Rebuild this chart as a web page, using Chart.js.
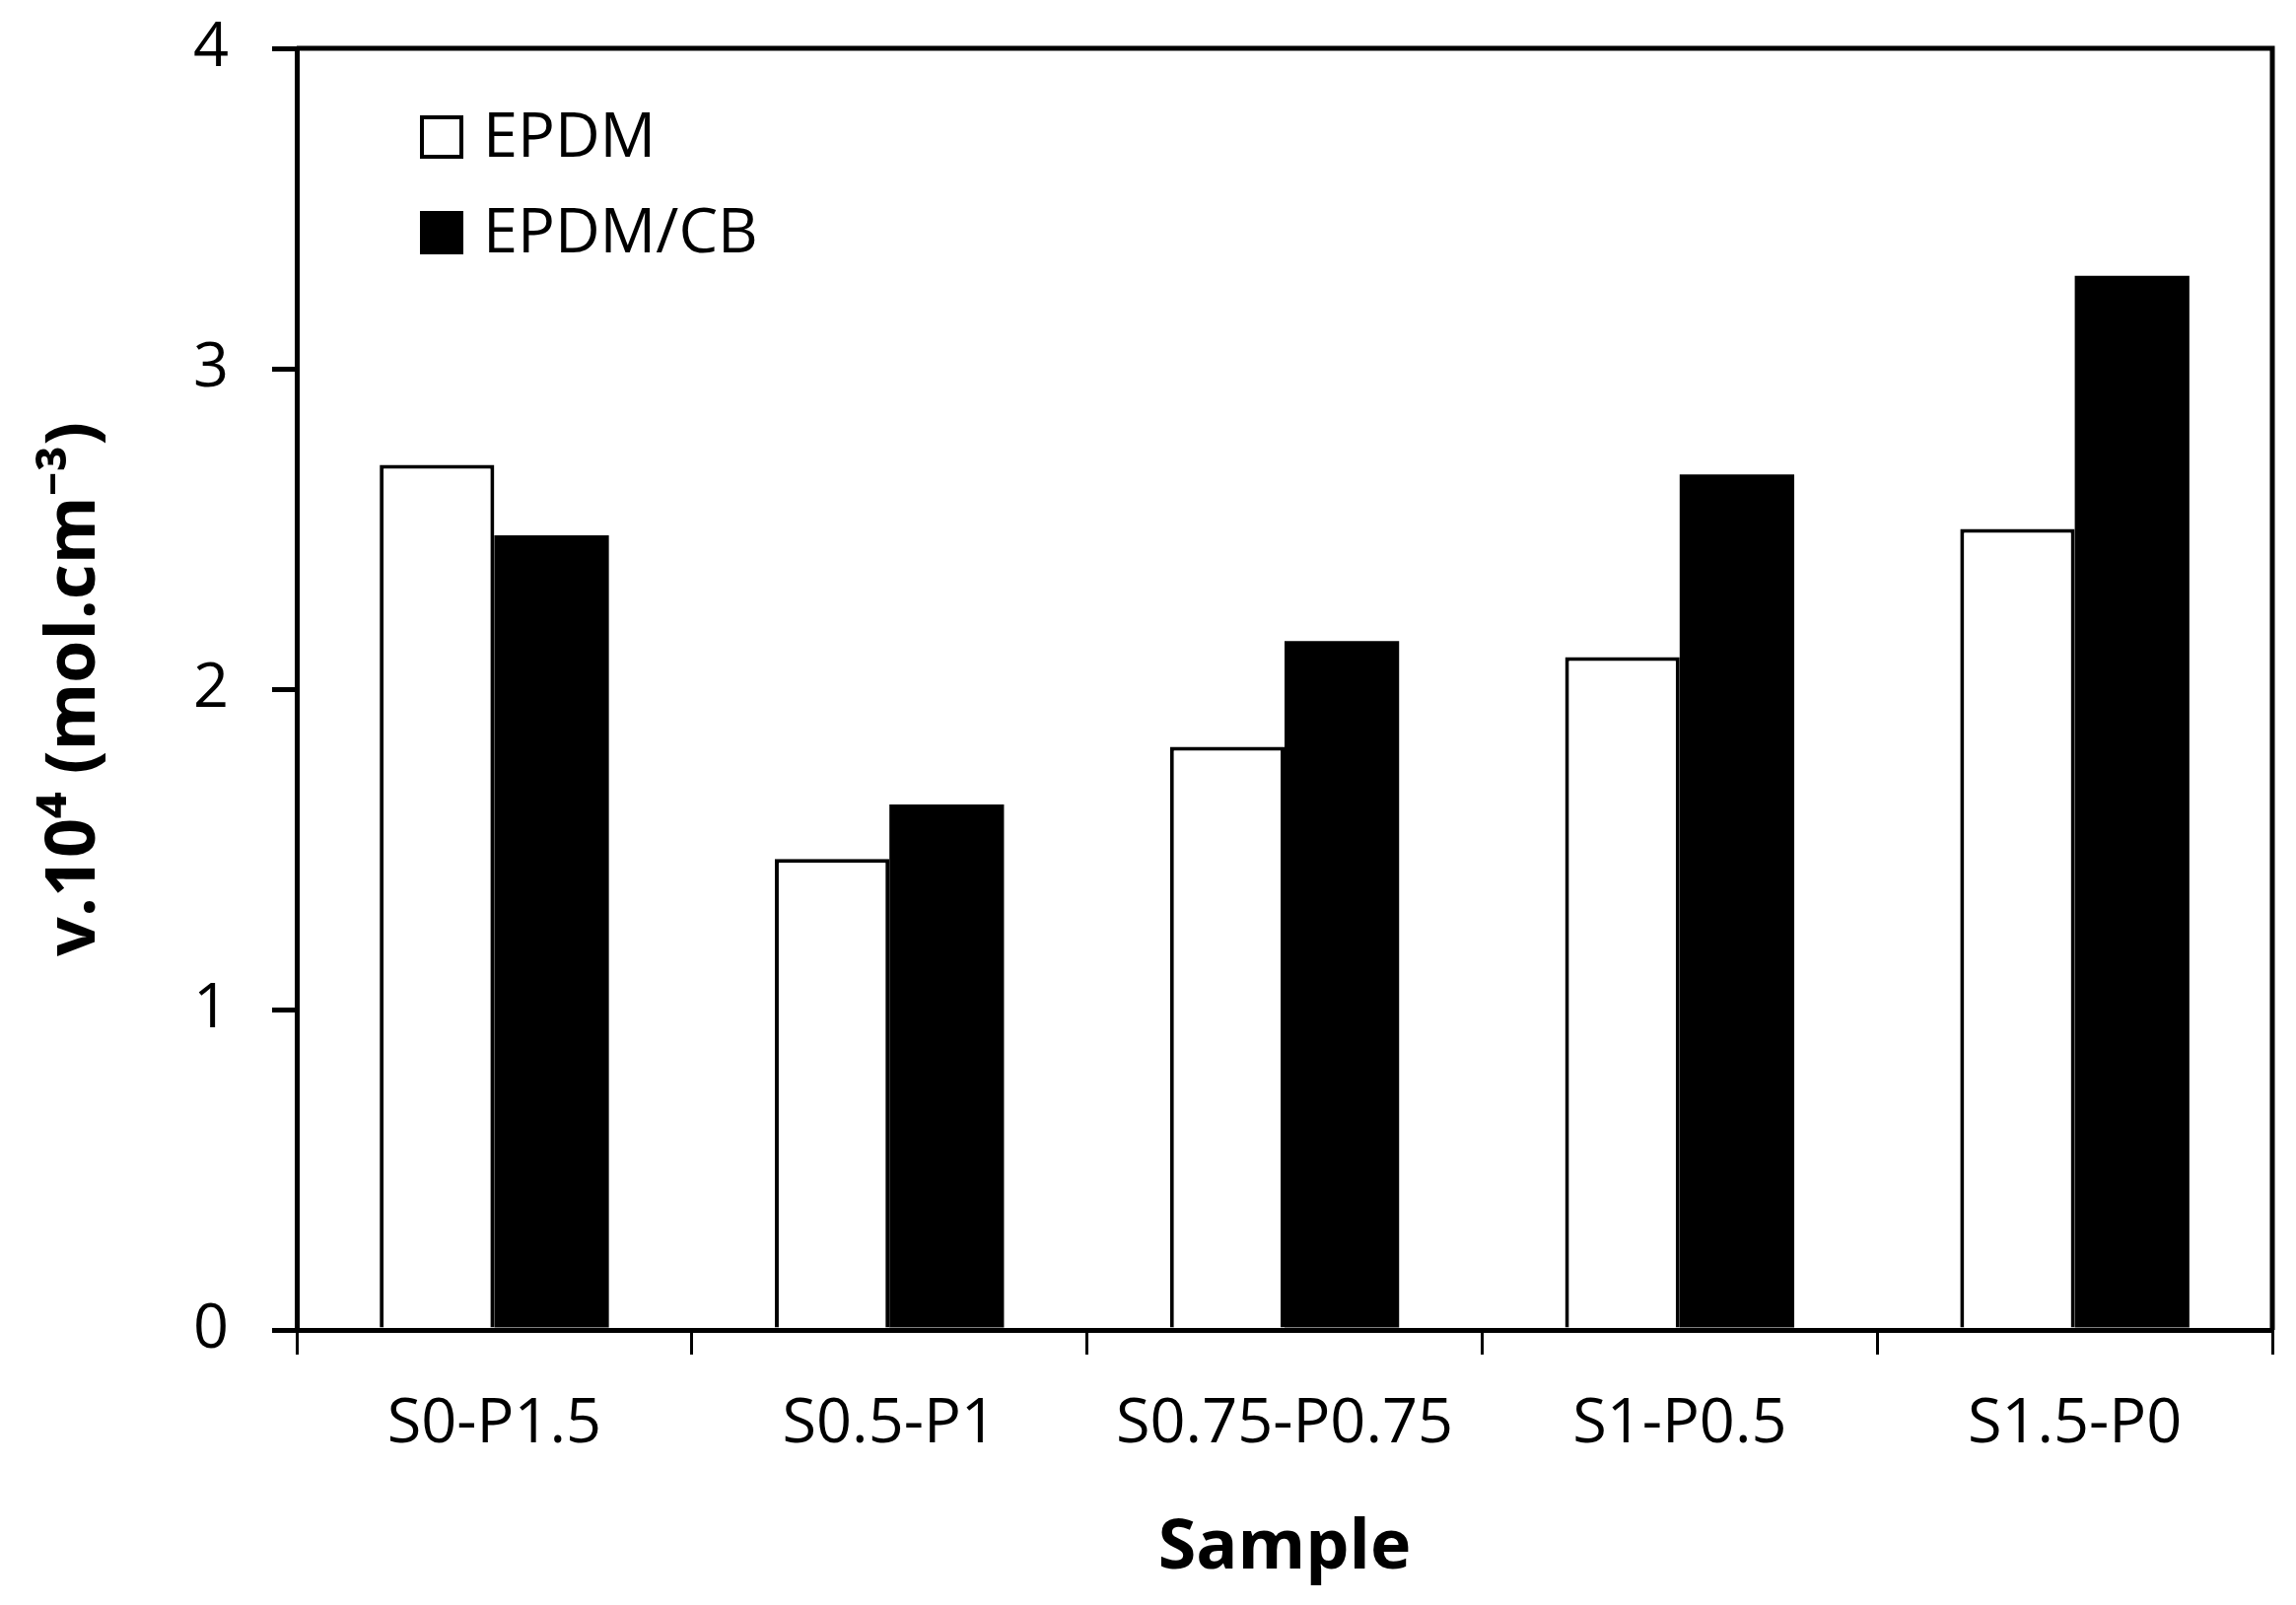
<!DOCTYPE html>
<html>
<head>
<meta charset="utf-8">
<script src="https://cdn.jsdelivr.net/npm/chart.js@4.4.1/dist/chart.umd.min.js"></script>
<style>
  html, body { margin: 0; padding: 0; background: #fff; }
  canvas { display: block; }
</style>
</head>
<body>
<canvas id="grafico" width="2329" height="1628"></canvas>
<script>
// Dados
const amostras = ['S0-P1.5', 'S0.5-P1', 'S0.75-P0.75', 'S1-P0.5', 'S1.5-P0'];
const epdm = [2.70, 1.47, 1.82, 2.10, 2.50];
const epdmCB = [2.48, 1.64, 2.15, 2.67, 3.29];
const ticksY = [0, 1, 2, 3, 4];

const FONTE = "'Open Sans', 'Noto Sans', 'DejaVu Sans', sans-serif";

// Moldura superior e direita do gráfico
const moldura = {
    id: 'moldura',
    afterDraw(chart) {
        const { ctx, chartArea } = chart;
        ctx.save();
        ctx.strokeStyle = '#000';
        ctx.lineWidth = 5;
        ctx.beginPath();
        ctx.moveTo(chartArea.left, chartArea.top);
        ctx.lineTo(chartArea.right, chartArea.top);
        ctx.lineTo(chartArea.right, chartArea.bottom);
        ctx.stroke();
        ctx.restore();
    }
};

// Legenda dentro da área do gráfico
const legenda = {
    id: 'legenda',
    afterDraw(chart) {
        const { ctx, chartArea } = chart;
        const caixa = 44;
        const x = chartArea.left + 125;
        const linhas = [chartArea.top + 90, chartArea.top + 187];
        ctx.save();
        ctx.font = '63px ' + FONTE;
        ctx.textBaseline = 'middle';
        ctx.textAlign = 'left';
        chart.data.datasets.forEach((ds, i) => {
            const y = linhas[i];
            ctx.fillStyle = ds.backgroundColor;
            ctx.fillRect(x, y - caixa / 2, caixa, caixa);
            ctx.strokeStyle = '#000';
            ctx.lineWidth = 4;
            ctx.strokeRect(x + 2, y - caixa / 2 + 2, caixa - 4, caixa - 4);
            ctx.fillStyle = '#000';
            ctx.fillText(ds.label, x + caixa + 20, y + 2);
        });
        ctx.restore();
    }
};

new Chart(document.getElementById('grafico'), {
    type: 'bar',
    data: {
        labels: amostras,
        datasets: [
            {
                label: 'EPDM',
                data: epdm,
                backgroundColor: '#ffffff',
                borderColor: '#000000',
                borderWidth: 4,
                borderSkipped: 'bottom'
            },
            {
                label: 'EPDM/CB',
                data: epdmCB,
                backgroundColor: '#000000',
                borderColor: '#000000',
                borderWidth: 0
            }
        ]
    },
    options: {
        responsive: false,
        devicePixelRatio: 1,
        animation: false,
        layout: {
            padding: { top: 49, right: 24, left: 0, bottom: 0 }
        },
        datasets: {
            bar: {
                categoryPercentage: 0.58,
                barPercentage: 1.0
            }
        },
        plugins: {
            legend: { display: false },
            tooltip: { enabled: false }
        },
        scales: {
            x: {
                afterFit(scale) { scale.height = 279; },
                grid: {
                    offset: true,
                    drawOnChartArea: false,
                    drawTicks: true,
                    tickLength: 25,
                    lineWidth: 3,
                    color: '#000'
                },
                border: { display: true, color: '#000', width: 5 },
                ticks: {
                    color: '#000',
                    padding: 33,
                    maxRotation: 0,
                    font: { family: FONTE, size: 63 }
                },
                title: {
                    display: true,
                    text: 'Sample',
                    color: '#000',
                    padding: { top: 0, bottom: 15 },
                    font: { family: FONTE, size: 70, weight: 'bold' }
                }
            },
            y: {
                min: 0,
                max: 4,
                afterFit(scale) {
                    scale.width = 301;
                    scale.paddingTop = 0;
                    scale.paddingBottom = 0;
                },
                afterBuildTicks(scale) {
                    scale.ticks = ticksY.map(v => ({ value: v }));
                },
                grid: {
                    drawOnChartArea: false,
                    drawTicks: true,
                    tickLength: 25,
                    lineWidth: 5,
                    color: '#000'
                },
                border: { display: true, color: '#000', width: 5 },
                ticks: {
                    color: '#000',
                    padding: 44,
                    font: { family: FONTE, size: 63 }
                },
                title: {
                    display: true,
                    text: 'v.10\u2074 (mol.cm\u207B\u00B3)',
                    color: '#000',
                    padding: { top: 34, bottom: 0 },
                    font: { family: FONTE, size: 70, weight: 'bold' }
                }
            }
        }
    },
    plugins: [moldura, legenda]
});
</script>
</body>
</html>
